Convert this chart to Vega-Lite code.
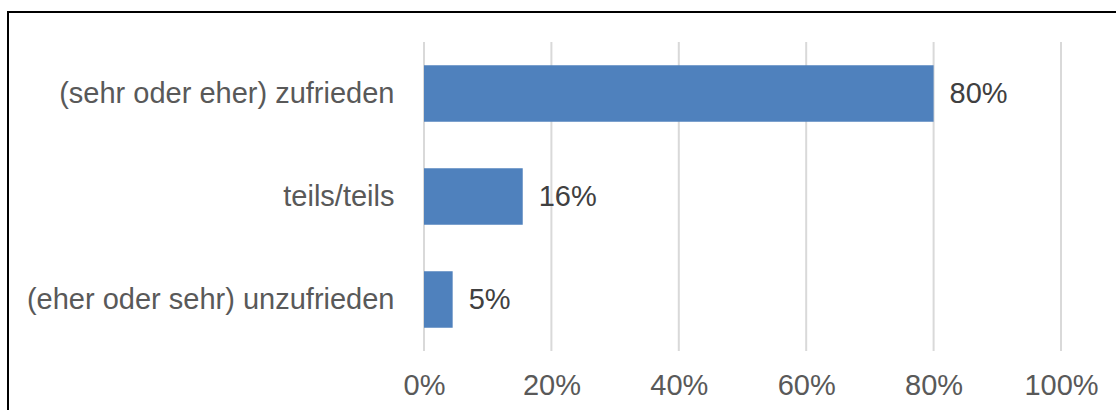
{
  "$schema": "https://vega.github.io/schema/vega-lite/v6.json",
  "width": 1111,
  "height": 401,
  "autosize": {"type": "none"},
  "padding": {"left": 8, "top": 12, "right": -3, "bottom": -3},
  "background": "white",
  "config": {
    "view": {"stroke": "#000000", "strokeWidth": 2},
    "font": "Liberation Sans"
  },
  "datasets": {
    "bars": [
      {"cat": "(sehr oder eher) zufrieden", "value": 0.80, "label": "80%"},
      {"cat": "teils/teils", "value": 0.155, "label": "16%"},
      {"cat": "(eher oder sehr) unzufrieden", "value": 0.045, "label": "5%"}
    ],
    "grid": [{"v": 0}, {"v": 0.2}, {"v": 0.4}, {"v": 0.6}, {"v": 0.8}, {"v": 1.0}]
  },
  "resolve": {"scale": {"y": "independent"}},
  "layer": [
    {
      "data": {"name": "grid"},
      "mark": {"type": "rule", "color": "#D9D9D9", "strokeWidth": 2},
      "encoding": {
        "x": {
          "field": "v", "type": "quantitative",
          "scale": {"domain": [0, 1], "range": [416, 1053]},
          "axis": {
            "orient": "bottom", "offset": -62, "domain": false, "ticks": false, "grid": false,
            "values": [0, 0.2, 0.4, 0.6, 0.8, 1.0], "format": ".0%",
            "labelPadding": 20, "labelFontSize": 29, "labelColor": "#595959",
            "labelFlush": false, "title": null
          }
        },
        "y": {"datum": 0, "type": "quantitative", "scale": {"domain": [0, 1], "range": [30, 339]}, "axis": null},
        "y2": {"datum": 1}
      }
    },
    {
      "data": {"name": "bars"},
      "encoding": {
        "y": {
          "field": "cat", "type": "nominal", "sort": null,
          "scale": {"range": [30, 339], "paddingInner": 0.45, "paddingOuter": 0.225},
          "axis": {
            "orient": "left", "offset": -416, "domain": false, "ticks": false,
            "labelPadding": 30, "labelFontSize": 29, "labelColor": "#595959",
            "labelLimit": 0, "title": null, "grid": false
          }
        },
        "x": {
          "field": "value", "type": "quantitative",
          "scale": {"domain": [0, 1], "range": [416, 1053]},
          "axis": {
            "orient": "bottom", "offset": -62, "domain": false, "ticks": false, "grid": false,
            "values": [0, 0.2, 0.4, 0.6, 0.8, 1.0], "format": ".0%",
            "labelPadding": 20, "labelFontSize": 29, "labelColor": "#595959",
            "labelFlush": false, "title": null
          }
        }
      },
      "layer": [
        {"mark": {"type": "bar", "color": "#4F81BD"}},
        {
          "mark": {"type": "text", "align": "left", "baseline": "middle", "dx": 16, "fontSize": 29, "color": "#404040"},
          "encoding": {"text": {"field": "label"}}
        }
      ]
    }
  ]
}
